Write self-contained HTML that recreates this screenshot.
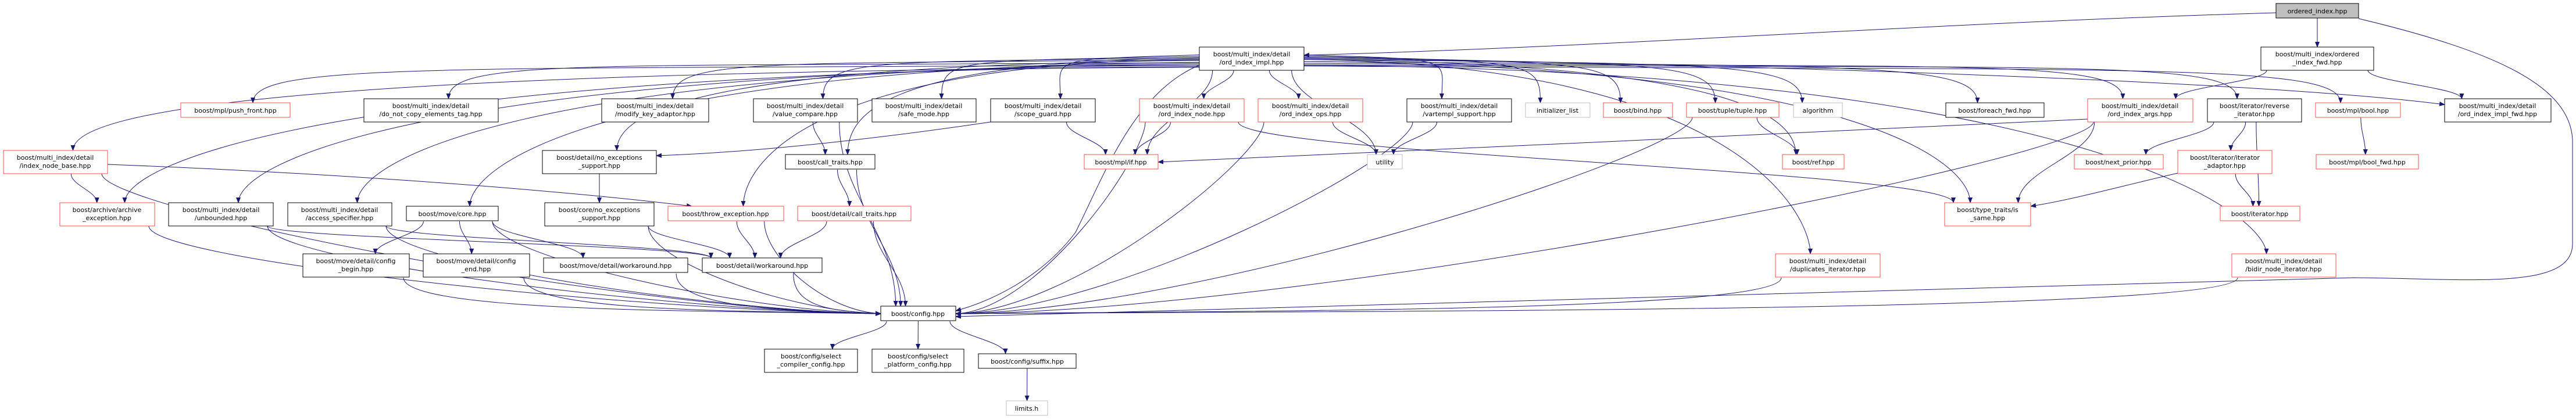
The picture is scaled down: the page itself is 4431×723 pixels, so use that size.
<!DOCTYPE html>
<html><head><meta charset="utf-8"><style>
html,body{margin:0;padding:0;background:#fff;width:4431px;height:723px;overflow:hidden}
svg text{font-family:"DejaVu Sans","Liberation Sans",sans-serif;font-size:11px;fill:#000;text-anchor:middle}
</style></head><body>
<svg id="g" width="4431" height="723" viewBox="0 0 4431 723" xmlns="http://www.w3.org/2000/svg">
<defs><marker id="ah" markerWidth="10" markerHeight="8" refX="9" refY="4" orient="auto" markerUnits="userSpaceOnUse"><path d="M0,0 L10,4 L0,8 z" fill="#191970"/></marker></defs>
<g id="edges" fill="none" stroke="#191970" stroke-width="1"></g>
<g id="nodes" stroke-width="1">
<rect x="3915" y="6" width="142" height="25" fill="#bfbfbf" stroke="#000"/><text x="3986" y="23">ordered_index.hpp</text>
<rect x="3889" y="81" width="194" height="40" fill="#fff" stroke="#000"/><text x="3986" y="97">boost/multi_index/ordered</text><text x="3986" y="111">_index_fwd.hpp</text>
<rect x="2063" y="81" width="180" height="40" fill="#fff" stroke="#000"/><text x="2153" y="97">boost/multi_index/detail</text><text x="2153" y="111">/ord_index_impl.hpp</text>
<rect x="311" y="177" width="188" height="25" fill="#fff" stroke="#ff4f4f"/><text x="405" y="194">boost/mpl/push_front.hpp</text>
<rect x="626" y="170" width="231" height="40" fill="#fff" stroke="#000"/><text x="741" y="186">boost/multi_index/detail</text><text x="741" y="200">/do_not_copy_elements_tag.hpp</text>
<rect x="1035" y="170" width="184" height="40" fill="#fff" stroke="#000"/><text x="1127" y="186">boost/multi_index/detail</text><text x="1127" y="200">/modify_key_adaptor.hpp</text>
<rect x="1296" y="170" width="179" height="40" fill="#fff" stroke="#000"/><text x="1385" y="186">boost/multi_index/detail</text><text x="1385" y="200">/value_compare.hpp</text>
<rect x="1500" y="170" width="179" height="40" fill="#fff" stroke="#000"/><text x="1589" y="186">boost/multi_index/detail</text><text x="1589" y="200">/safe_mode.hpp</text>
<rect x="1704" y="170" width="180" height="40" fill="#fff" stroke="#000"/><text x="1794" y="186">boost/multi_index/detail</text><text x="1794" y="200">/scope_guard.hpp</text>
<rect x="1960" y="170" width="180" height="40" fill="#fff" stroke="#ff4f4f"/><text x="2050" y="186">boost/multi_index/detail</text><text x="2050" y="200">/ord_index_node.hpp</text>
<rect x="2164" y="170" width="180" height="40" fill="#fff" stroke="#ff4f4f"/><text x="2254" y="186">boost/multi_index/detail</text><text x="2254" y="200">/ord_index_ops.hpp</text>
<rect x="2420" y="170" width="180" height="40" fill="#fff" stroke="#000"/><text x="2510" y="186">boost/multi_index/detail</text><text x="2510" y="200">/vartempl_support.hpp</text>
<rect x="2624" y="177" width="111" height="25" fill="#fff" stroke="#bfbfbf"/><text x="2679" y="194">initializer_list</text>
<rect x="2758" y="177" width="119" height="25" fill="#fff" stroke="#ff4f4f"/><text x="2817" y="194">boost/bind.hpp</text>
<rect x="2901" y="177" width="159" height="25" fill="#fff" stroke="#ff4f4f"/><text x="2980" y="194">boost/tuple/tuple.hpp</text>
<rect x="3085" y="177" width="84" height="25" fill="#fff" stroke="#bfbfbf"/><text x="3127" y="194">algorithm</text>
<rect x="3347" y="177" width="169" height="25" fill="#fff" stroke="#000"/><text x="3431" y="194">boost/foreach_fwd.hpp</text>
<rect x="3591" y="170" width="181" height="40" fill="#fff" stroke="#ff4f4f"/><text x="3681" y="186">boost/multi_index/detail</text><text x="3681" y="200">/ord_index_args.hpp</text>
<rect x="3797" y="170" width="162" height="40" fill="#fff" stroke="#000"/><text x="3878" y="186">boost/iterator/reverse</text><text x="3878" y="200">_iterator.hpp</text>
<rect x="3983" y="177" width="146" height="25" fill="#fff" stroke="#ff4f4f"/><text x="4056" y="194">boost/mpl/bool.hpp</text>
<rect x="4205" y="170" width="183" height="40" fill="#fff" stroke="#000"/><text x="4296" y="186">boost/multi_index/detail</text><text x="4296" y="200">/ord_index_impl_fwd.hpp</text>
<rect x="6" y="259" width="179" height="40" fill="#fff" stroke="#ff4f4f"/><text x="95" y="275">boost/multi_index/detail</text><text x="95" y="289">/index_node_base.hpp</text>
<rect x="933" y="259" width="196" height="40" fill="#fff" stroke="#000"/><text x="1031" y="275">boost/detail/no_exceptions</text><text x="1031" y="289">_support.hpp</text>
<rect x="1351" y="266" width="154" height="25" fill="#fff" stroke="#000"/><text x="1428" y="283">boost/call_traits.hpp</text>
<rect x="1865" y="266" width="127" height="25" fill="#fff" stroke="#ff4f4f"/><text x="1928" y="283">boost/mpl/if.hpp</text>
<rect x="2352" y="266" width="60" height="25" fill="#fff" stroke="#bfbfbf"/><text x="2382" y="283">utility</text>
<rect x="3066" y="266" width="106" height="25" fill="#fff" stroke="#ff4f4f"/><text x="3119" y="283">boost/ref.hpp</text>
<rect x="3568" y="266" width="153" height="25" fill="#fff" stroke="#ff4f4f"/><text x="3644" y="283">boost/next_prior.hpp</text>
<rect x="3746" y="259" width="162" height="40" fill="#fff" stroke="#ff4f4f"/><text x="3827" y="275">boost/iterator/iterator</text><text x="3827" y="289">_adaptor.hpp</text>
<rect x="3984" y="266" width="176" height="25" fill="#fff" stroke="#ff4f4f"/><text x="4072" y="283">boost/mpl/bool_fwd.hpp</text>
<rect x="103" y="349" width="163" height="40" fill="#fff" stroke="#ff4f4f"/><text x="184" y="365">boost/archive/archive</text><text x="184" y="379">_exception.hpp</text>
<rect x="290" y="349" width="180" height="40" fill="#fff" stroke="#000"/><text x="380" y="365">boost/multi_index/detail</text><text x="380" y="379">/unbounded.hpp</text>
<rect x="495" y="349" width="179" height="40" fill="#fff" stroke="#000"/><text x="584" y="365">boost/multi_index/detail</text><text x="584" y="379">/access_specifier.hpp</text>
<rect x="699" y="355" width="158" height="25" fill="#fff" stroke="#000"/><text x="778" y="372">boost/move/core.hpp</text>
<rect x="937" y="349" width="188" height="40" fill="#fff" stroke="#000"/><text x="1031" y="365">boost/core/no_exceptions</text><text x="1031" y="379">_support.hpp</text>
<rect x="1149" y="355" width="199" height="25" fill="#fff" stroke="#ff4f4f"/><text x="1248" y="372">boost/throw_exception.hpp</text>
<rect x="1372" y="355" width="195" height="25" fill="#fff" stroke="#ff4f4f"/><text x="1469" y="372">boost/detail/call_traits.hpp</text>
<rect x="3345" y="349" width="148" height="40" fill="#fff" stroke="#ff4f4f"/><text x="3419" y="365">boost/type_traits/is</text><text x="3419" y="379">_same.hpp</text>
<rect x="3819" y="355" width="137" height="25" fill="#fff" stroke="#ff4f4f"/><text x="3887" y="372">boost/iterator.hpp</text>
<rect x="521" y="437" width="183" height="40" fill="#fff" stroke="#000"/><text x="612" y="453">boost/move/detail/config</text><text x="612" y="467">_begin.hpp</text>
<rect x="728" y="437" width="183" height="40" fill="#fff" stroke="#000"/><text x="819" y="453">boost/move/detail/config</text><text x="819" y="467">_end.hpp</text>
<rect x="935" y="444" width="248" height="25" fill="#fff" stroke="#000"/><text x="1059" y="461">boost/move/detail/workaround.hpp</text>
<rect x="1208" y="444" width="206" height="25" fill="#fff" stroke="#000"/><text x="1311" y="461">boost/detail/workaround.hpp</text>
<rect x="3054" y="437" width="180" height="40" fill="#fff" stroke="#ff4f4f"/><text x="3144" y="453">boost/multi_index/detail</text><text x="3144" y="467">/duplicates_iterator.hpp</text>
<rect x="3839" y="437" width="179" height="40" fill="#fff" stroke="#ff4f4f"/><text x="3928" y="453">boost/multi_index/detail</text><text x="3928" y="467">/bidir_node_iterator.hpp</text>
<rect x="1515" y="527" width="129" height="25" fill="#fff" stroke="#000"/><text x="1579" y="544">boost/config.hpp</text>
<rect x="1315" y="601" width="160" height="40" fill="#fff" stroke="#000"/><text x="1395" y="617">boost/config/select</text><text x="1395" y="631">_compiler_config.hpp</text>
<rect x="1500" y="601" width="158" height="40" fill="#fff" stroke="#000"/><text x="1579" y="617">boost/config/select</text><text x="1579" y="631">_platform_config.hpp</text>
<rect x="1683" y="609" width="168" height="25" fill="#fff" stroke="#000"/><text x="1767" y="626">boost/config/suffix.hpp</text>
<rect x="1731" y="690" width="71" height="25" fill="#fff" stroke="#bfbfbf"/><text x="1766" y="707">limits.h</text>
</g>
</svg>
<script>
var N={A:[3915,6,4057,31],B:[3889,81,4083,121],C:[2063,81,2243,121],pf:[311,177,499,202],dnc:[626,170,857,210],mka:[1035,170,1219,210],vc:[1296,170,1475,210],sm:[1500,170,1679,210],sg:[1704,170,1884,210],oin:[1960,170,2140,210],oio:[2164,170,2344,210],vts:[2420,170,2600,210],il:[2624,177,2735,202],bind:[2758,177,2877,202],tup:[2901,177,3060,202],alg:[3085,177,3169,202],ff:[3347,177,3516,202],oia:[3591,170,3772,210],ri:[3797,170,3959,210],mb:[3983,177,4129,202],oif:[4205,170,4388,210],inb:[6,259,185,299],dne:[933,259,1129,299],ct:[1351,266,1505,292],mif:[1865,266,1992,292],ut:[2352,266,2412,292],ref:[3066,266,3172,292],np:[3568,266,3721,292],ia:[3746,259,3908,299],bf:[3984,266,4160,292],ae:[103,349,266,389],ub:[290,349,470,389],as:[495,349,674,389],mc:[699,355,857,381],cne:[937,349,1125,389],te:[1149,355,1348,381],dct:[1372,355,1567,381],is:[3345,349,3493,389],it:[3819,355,3956,381],cb:[521,437,704,478],ce:[728,437,911,478],mw:[935,444,1183,471],dw:[1208,444,1414,471],di:[3054,437,3234,478],bni:[3839,437,4018,478],cfg:[1515,527,1644,553],scc:[1315,601,1475,641],spc:[1500,601,1658,641],sfx:[1683,609,1851,634],lim:[1731,690,1802,716]};
var E=[["A","B"],["B","oia"],["B","oif"],
["C","pf"],["C","dnc"],["C","mka"],["C","inb"],["C","ae"],["C","ub"],["C","as"],["C","mc"],["C","dne"],["C","vc"],["C","sm"],["C","sg"],["C","oin"],["C","oio"],["C","mif"],["C","ct"],["C","te"],["C","vts"],["C","il"],["C","bind"],["C","tup"],["C","alg"],["C","ut"],["C","ref"],["C","di"],["C","ff"],["C","oia"],["C","ri"],["C","mb"],["C","oif"],["C","bni"],["C","cfg"],["C","is"],
["inb","ae"],["inb","cfg"],["ae","cfg"],["ub","cfg"],["ub","dw"],["as","cfg"],["as","dw"],
["mc","cb"],["mc","ce"],["mc","mw"],["mc","cfg"],["cb","cfg"],["ce","cfg"],["mw","cfg"],
["dne","cne"],["cne","cfg"],["cne","dw"],["vc","ct"],["vc","cfg"],["sg","mif"],
["oin","mif"],["oin","cfg"],["oin","is"],["oio","ut"],["oio","cfg"],["vts","ut"],["vts","cfg"],
["tup","ref"],["tup","cfg"],["ct","dct"],["ct","cfg"],["te","dw"],["te","cfg"],["dct","dw"],["dct","cfg"],["dw","cfg"],
["cfg","scc"],["cfg","spc"],["cfg","sfx"],["sfx","lim"],["di","cfg"],["bni","cfg"],
["oia","is"],["oia","cfg"],["ri","np"],["ri","ia"],["ri","it"],["ia","it"],["mb","bf"]];
var g=document.getElementById("edges"),s="";
function P(d){s+='<path d="'+d+'" marker-end="url(#ah)"/>';}
E.forEach(function(e){
 var a=N[e[0]],b=N[e[1]],acx=(a[0]+a[2])/2,bcx=(b[0]+b[2])/2,dx=bcx-acx;
 var sx,sy,tx,ty;
 if(e[0]=="C"&&Math.abs(dx)>330){
  sx=dx<0?a[0]:a[2];sy=90+Math.min(Math.abs(dx)/80,30);
  tx=Math.max(b[0]+15,Math.min(b[2]-15,bcx+(dx<0?30:-30)));ty=b[1];
  if(e[1]=="oif"){P("M2243,100 C3000,110 3900,140 4205,180");return;}
  if(e[1]=="cfg"){P("M2063,112 C1950,160 1900,300 1850,400 C1790,480 1700,520 1644,535");return;}
  P("M"+sx+","+sy+" C"+(sx+dx*0.75)+","+(sy+8)+" "+tx+","+(ty-70)+" "+tx+","+ty);return;
 }
 if(e[1]=="cfg"&&Math.abs(dx)>220){
  sx=acx+(dx>0?1:-1)*Math.min(Math.abs(dx)*0.2,(a[2]-a[0])/2-10);sy=a[3];
  tx=dx>0?b[0]:b[2];ty=540;
  P("M"+sx+","+sy+" C"+sx+","+(sy+60)+" "+(tx-dx*0.3)+","+(ty-5)+" "+tx+","+ty);return;
 }
 sx=acx+Math.max(-(a[2]-a[0])/2+10,Math.min((a[2]-a[0])/2-10,dx*0.3));sy=a[3];
 tx=bcx-Math.max(-(b[2]-b[0])/2+15,Math.min((b[2]-b[0])/2-15,dx*0.2));ty=b[1];
 var dy=ty-sy;
 P("M"+sx+","+sy+" C"+sx+","+(sy+dy*0.4)+" "+tx+","+(ty-dy*0.4)+" "+tx+","+ty);
});
P("M3915,22 C3300,40 2800,80 2243,95");
P("M4057,32 C4300,90 4420,150 4425,240 L4425,420 C4425,500 4250,480 4050,478 C3700,495 2800,510 1644,545");
P("M3591,205 C3200,225 2400,260 1992,279");
P("M3746,298 C3650,320 3560,345 3493,355");
P("M1704,210 C1500,240 1300,262 1129,268");
P("M185,283 C500,295 900,320 1190,355");
g.innerHTML=s;
</script>
</body></html>
